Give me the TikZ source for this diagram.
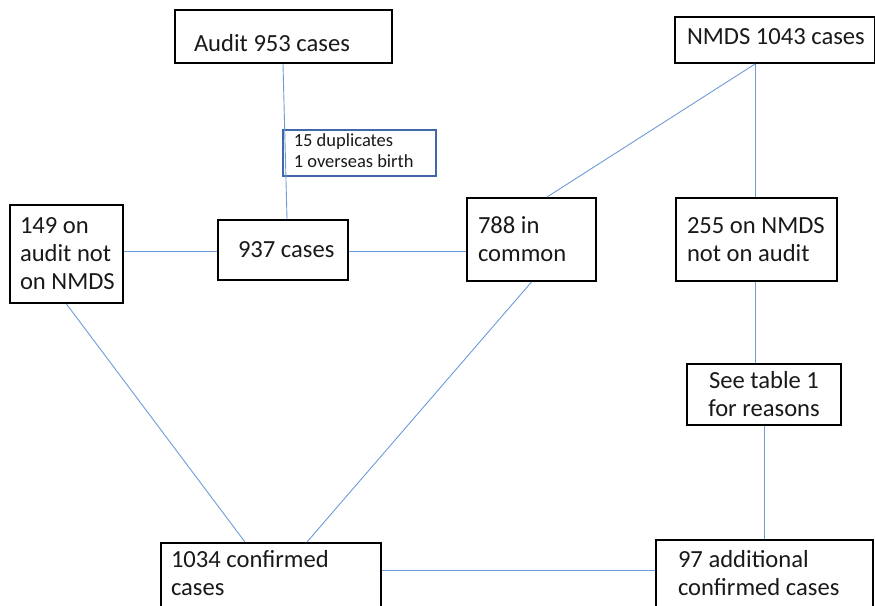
\documentclass[tikz,border=0pt]{standalone}
\usepackage{fontspec}
\setmainfont{Carlito}
\definecolor{linkblue}{RGB}{110,155,215}
\definecolor{noteblue}{RGB}{65,105,170}
\definecolor{txt}{RGB}{25,25,25}
\newcommand\btxt[3]{\hspace*{#1}\parbox[c]{#2}{\raggedright #3}}
\newcommand\vmove[2]{\raisebox{#1}[\height][\depth]{#2}}
\begin{document}
\begin{tikzpicture}[x=1pt,y=-1pt,
  box/.style={draw=black,line width=2pt,rectangle,anchor=north west,inner sep=0pt,
    text=txt,font=\fontsize{24.6}{28}\selectfont},
  notebox/.style={draw=noteblue,line width=1.6pt,rectangle,anchor=north west,inner sep=0pt,
    text=txt,font=\fontsize{18.5}{21}\selectfont},
  link/.style={draw=linkblue,line width=0.9pt}]
\useasboundingbox (0,0) rectangle (875,605);
% boxes
\node[box,minimum width=217pt,minimum height=53pt] (audit) at (174,9) {\vmove{-7pt}{\btxt{19pt}{198pt}{Audit 953 cases}}};
\node[notebox,minimum width=153pt,minimum height=46pt] (note) at (282,129) {\vmove{2.5pt}{\btxt{11pt}{142pt}{15 duplicates\\1 overseas birth}}};
\node[box,minimum width=113pt,minimum height=98pt] (n149) at (9,204) {\btxt{10pt}{103pt}{149 on\\audit not\\on NMDS}};
\node[box,minimum width=130pt,minimum height=60pt] (n937) at (217,219) {\btxt{20pt}{110pt}{937 cases}};
\node[box,minimum width=129pt,minimum height=83pt] (n788) at (466,197) {\btxt{11pt}{118pt}{788 in\\common}};
\node[box,minimum width=161pt,minimum height=83pt] (n255) at (675,197) {\btxt{11pt}{150pt}{255 on NMDS\\not on audit}};
\node[box,minimum width=200pt,minimum height=46pt] (nmds) at (674,16) {\vmove{3pt}{\btxt{12pt}{188pt}{NMDS 1043 cases}}};
\node[box,minimum width=154pt,minimum height=61pt,align=center] (seetable) at (686,363) {See table 1\\for reasons};
\node[box,minimum width=220pt,minimum height=72pt] (n1034) at (160,542) {\vmove{5.5pt}{\btxt{10pt}{210pt}{1034 confirmed\\cases}}};
\node[box,minimum width=217pt,minimum height=72pt] (n97) at (655,539) {\vmove{2.5pt}{\btxt{22pt}{195pt}{97 additional\\confirmed cases}}};
% connectors
\draw[link] ([xshift=109pt]audit.south west) -- ([xshift=70pt]n937.north west);
\draw[link] ([yshift=-1pt]n937.west -| n149.east) -- ([yshift=-1pt]n937.west);
\draw[link] ([yshift=-1pt]n937.east) -- ([yshift=-1pt]n937.east -| n788.west);
\draw[link] ([xshift=81pt]nmds.south west) -- ([xshift=81pt]n788.north west);
\draw[link] ([xshift=81pt]nmds.south west) -- ([xshift=80pt]n255.north west);
\draw[link] ([xshift=80pt]n255.south west) -- ([xshift=69pt]seetable.north west);
\draw[link] (seetable.south) -- (seetable.south |- n97.north);
\draw[link] ([yshift=-28pt]n1034.north east) -- ([yshift=-31pt]n97.north west);
\draw[link] (n149.south) -- ([xshift=85pt]n1034.north west);
\draw[link] (n788.south) -- ([xshift=147pt]n1034.north west);
\end{tikzpicture}
\end{document}
